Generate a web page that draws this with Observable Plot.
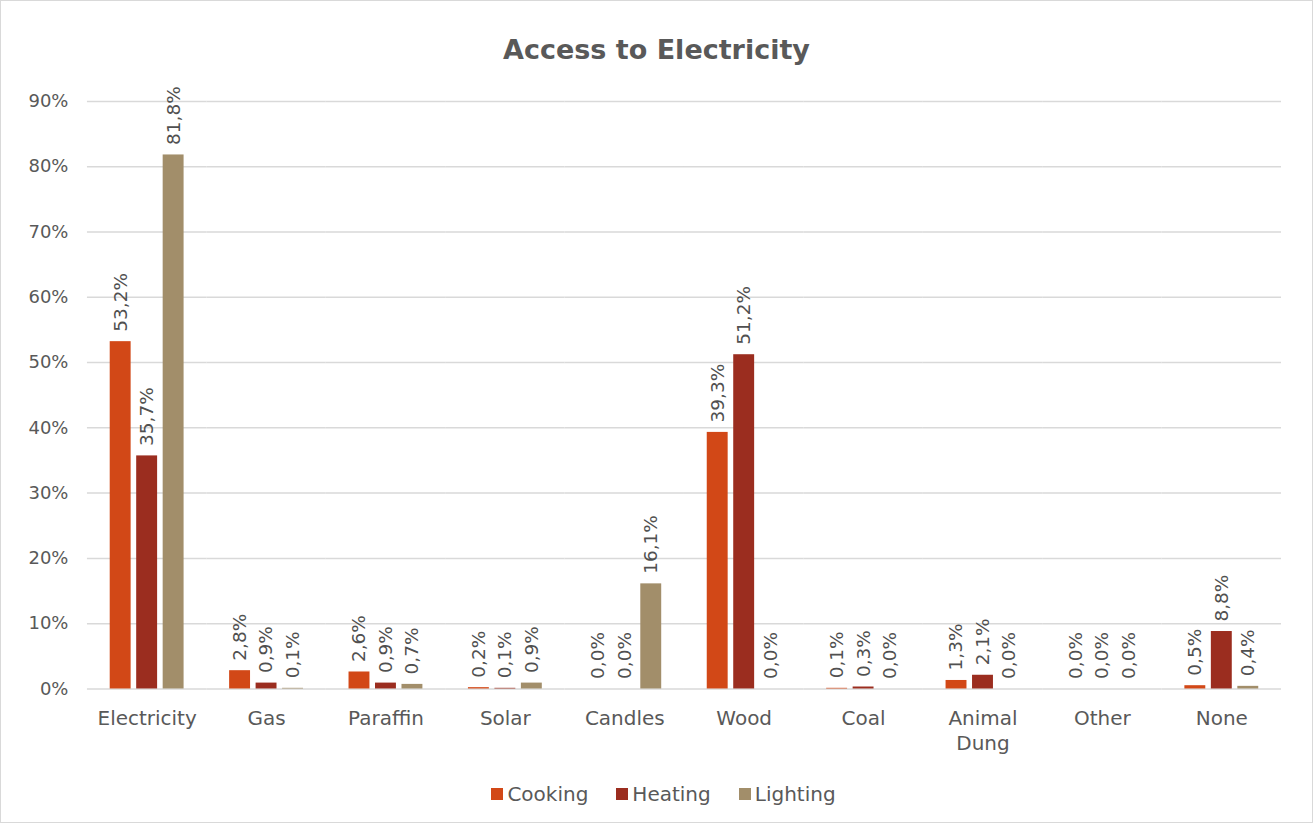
<!DOCTYPE html>
<html><head><meta charset="utf-8">
<script src="https://cdn.jsdelivr.net/npm/d3@7"></script>
<script src="https://cdn.jsdelivr.net/npm/@observablehq/plot@0.6"></script>
<style>
html,body{margin:0;padding:0;background:#fff;}
body{font-family:"DejaVu Sans",sans-serif;}
#frame{position:relative;width:1311px;height:821px;border:1px solid #d9d9d9;overflow:hidden;background:#fff}
#title{position:absolute;top:33px;left:0;width:100%;text-align:center;font-weight:bold;font-size:27px;color:#595959;}
#chart{position:absolute;left:-1px;top:-1px}
#legend{position:absolute;top:781px;left:7px;width:100%;display:flex;justify-content:center;gap:28px;font-size:20px;color:#595959;}
#legend .item{display:flex;align-items:center;gap:4px}
#legend .sw{width:12px;height:12px;display:inline-block}
</style></head>
<body>
<div id="frame">
  <div id="title">Access to Electricity</div>
  <div id="chart"></div>
  <div id="legend"></div>
</div>
<script>
const categories = ["Electricity","Gas","Paraffin","Solar","Candles","Wood","Coal","Animal Dung","Other","None"];
const series = ["Cooking","Heating","Lighting"];
const cooking  = [0.532,0.028,0.026,0.002,0.000,0.393,0.001,0.013,0.000,0.005];
const heating  = [0.357,0.009,0.009,0.001,0.000,0.512,0.003,0.021,0.000,0.088];
const lighting = [0.818,0.001,0.007,0.009,0.161,0.000,0.000,0.000,0.000,0.004];
const colors = ["#D24817","#9B2D1F","#A28E6A"];
const yTicks = [0,0.1,0.2,0.3,0.4,0.5,0.6,0.7,0.8,0.9];

const seriesValues = [cooking, heating, lighting];
const rows = [];
categories.forEach((c, i) => series.forEach((s, j) => rows.push({category: c, series: s, value: seriesValues[j][i]})));
const fmt = v => d3.format(".1%")(v).replace(".", ",");

const chart = Plot.plot({
  width: 1313, height: 823,
  marginLeft: 87, marginRight: 31, marginTop: 101, marginBottom: 134,
  style: {fontFamily: '"DejaVu Sans", sans-serif', fontSize: "18px", color: "#595959", background: "transparent"},
  fx: {domain: categories, padding: 0, round: false, axis: null, label: null},
  x: {domain: series, axis: null, paddingInner: 0.21, paddingOuter: 0.86, round: false},
  y: {domain: [0, 0.9], ticks: yTicks, tickFormat: d3.format(".0%"), label: null, tickSize: 0, tickPadding: 19},
  color: {domain: series, range: colors},
  marks: [
    Plot.gridY(yTicks, {stroke: "#d9d9d9", strokeOpacity: 1, strokeWidth: 1.5}),
    Plot.barY(rows, {fx: "category", x: "series", y: "value", fill: "series"}),
    Plot.text(rows, {fx: "category", x: "series", y: "value", text: d => fmt(d.value), rotate: -90, textAnchor: "start", dy: -10, fontSize: 18.5, fill: "#505050"}),
    Plot.text(categories, {fx: d => d, text: d => d.replace(" ", "\n"), frameAnchor: "bottom", lineAnchor: "top", dy: 18, fontSize: 20, lineHeight: 1.25, fill: "#595959"})
  ]
});
document.getElementById("chart").appendChild(chart);

const legend = document.getElementById("legend");
series.forEach((s, i) => {
  const it = document.createElement("div");
  it.className = "item";
  it.innerHTML = `<span class="sw" style="background:${colors[i]}"></span><span>${s}</span>`;
  legend.appendChild(it);
});
</script>
</body></html>
